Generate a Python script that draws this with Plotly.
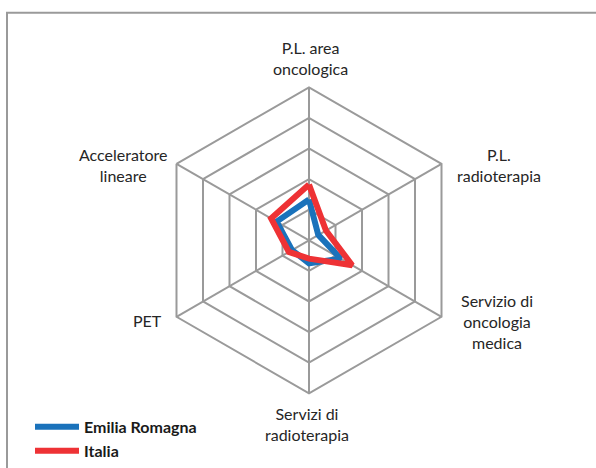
import plotly.graph_objects as go

categories = ["P.L. area oncologica", "P.L. radioterapia", "Servizio di oncologia medica",
              "Servizi di radioterapia", "PET", "Acceleratore lineare"]
label_text = ["P.L. area<br>oncologica", "P.L.<br>radioterapia", "Servizio di<br>oncologia<br>medica",
              "Servizi di<br>radioterapia", "PET", "Acceleratore<br>lineare"]
emilia = [1.33, 0.35, 1.2, 0.75, 0.64, 1.22]
italia = [1.82, 0.64, 1.63, 0.6, 0.76, 1.43]

W, H = 596, 468
grid = "#9a9a9a"

fig = go.Figure()
fig.add_trace(go.Scatterpolar(
    r=emilia + emilia[:1],
    theta=categories + categories[:1],
    mode="lines",
    name="Emilia Romagna",
    line=dict(color="#1a72bb", width=6)
))
fig.add_trace(go.Scatterpolar(
    r=italia + italia[:1],
    theta=categories + categories[:1],
    mode="lines",
    name="Italia",
    line=dict(color="#ee3235", width=6)
))

# category labels placed like the original (centred blocks)
label_pos = [(310, 59), (499, 168), (497, 328), (307, 432), (147, 327), (123, 168)]
for txt, (px, py) in zip(label_text, label_pos):
    fig.add_annotation(x=px / W, y=1 - py / H, xref="paper", yref="paper", text=txt,
                       showarrow=False, xanchor="center", yanchor="middle", align="center")

fig.update_layout(
    width=W, height=H,
    margin=dict(l=0, r=0, t=0, b=0),
    paper_bgcolor="white",
    font=dict(family="Lato", size=16, color="#262626"),
    polar=dict(
        domain=dict(x=[153 / W, 465 / W], y=[67 / H, 379 / H]),
        gridshape="linear",
        bgcolor="white",
        radialaxis=dict(range=[0, 5], dtick=1, showticklabels=False, ticks="",
                        showline=False, gridcolor=grid, gridwidth=2),
        angularaxis=dict(rotation=90, direction="clockwise", gridcolor=grid, gridwidth=2,
                         linecolor=grid, linewidth=2, ticks="", showticklabels=False)
    ),
    legend=dict(x=30 / W, xanchor="left", y=1 - 418 / H, yanchor="top", itemwidth=44,
                font=dict(family="Lato", size=16, color="#1a1a1a", weight="bold"),
                bgcolor="rgba(0,0,0,0)", tracegroupgap=0),
    showlegend=True,
    shapes=[dict(type="rect", xref="paper", yref="paper", x0=7 / W, x1=1.2,
                 y0=-0.2, y1=1 - 13 / H, line=dict(color="#9a9a9a", width=2))]
)

fig.write_html("out.html", config={"displayModeBar": False})

# the page body has a default 8px margin; remove it so the figure sits at the window origin
with open("out.html") as f:
    page = f.read()
page = page.replace("<head>", "<head><style>body{margin:0;}</style>", 1)
with open("out.html", "w") as f:
    f.write(page)
